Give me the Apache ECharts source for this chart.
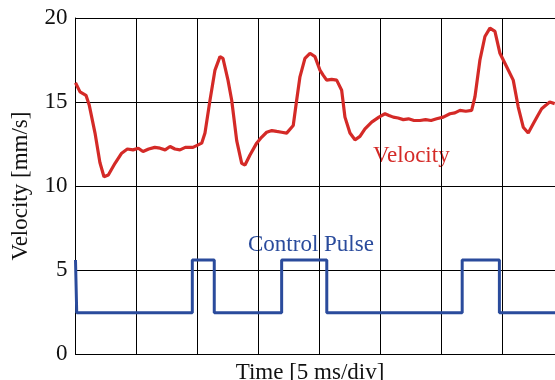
<!DOCTYPE html>
<html><head><meta charset="utf-8">
<script src="https://cdn.jsdelivr.net/npm/echarts@6/dist/echarts.min.js"></script>
<style>html,body{margin:0;padding:0;background:#fff}#c{width:555px;height:380px}</style>
</head><body><div id="c"></div>
<script>
// time in divisions (5 ms/div)
const velT = [0.0,0.074,0.172,0.226,0.32,0.40,0.467,0.538,0.648,0.757,0.85,0.943,1.03,1.107,1.2,1.3,1.385,1.47,1.55,1.63,1.713,1.8,1.926,2.069,2.123,2.205,2.287,2.369,2.418,2.5,2.561,2.643,2.725,2.779,2.861,2.97,3.05,3.134,3.22,3.298,3.38,3.462,3.57,3.626,3.68,3.762,3.844,3.926,4.008,4.06,4.118,4.2,4.282,4.364,4.418,4.5,4.582,4.664,4.746,4.856,4.975,5.074,5.14,5.21,5.29,5.374,5.46,5.55,5.648,5.74,5.83,5.921,6.03,6.139,6.22,6.303,6.4,6.495,6.549,6.631,6.713,6.795,6.877,6.959,7.069,7.177,7.259,7.341,7.423,7.505,7.58,7.643,7.71,7.775,7.857];
const velV = [16.15,15.6,15.4,14.8,13.15,11.4,10.55,10.65,11.35,11.95,12.2,12.15,12.25,12.05,12.2,12.3,12.25,12.15,12.35,12.2,12.15,12.3,12.3,12.55,13.15,15.1,16.9,17.7,17.6,16.3,15.1,12.7,11.35,11.25,11.85,12.55,12.9,13.2,13.3,13.25,13.2,13.15,13.6,15.1,16.5,17.6,17.9,17.7,16.9,16.6,16.3,16.35,16.3,15.7,14.1,13.15,12.75,12.95,13.4,13.8,14.1,14.3,14.2,14.1,14.05,13.95,14.0,13.9,13.9,13.95,13.9,14.0,14.1,14.3,14.35,14.5,14.45,14.5,15.3,17.5,18.9,19.4,19.2,17.9,17.1,16.3,14.7,13.5,13.15,13.7,14.2,14.6,14.8,15.0,14.9];
const pulseT = [0,0.02,0.02,1.915,1.915,2.275,2.275,3.38,3.38,4.12,4.12,6.34,6.34,6.95,6.95,7.87];
const pulseV = [5.6,5.6,2.46,2.46,5.6,5.6,2.46,2.46,5.6,5.6,2.46,2.46,5.6,5.6,2.46,2.46];
const yTicks = [0,5,10,15,20];
const labels = {vel:'Velocity', pulse:'Control Pulse', xName:'Time [5 ms/div]', yName:'Velocity [mm/s]'};

const font = '"Liberation Serif","Times New Roman",serif';
const chart = echarts.init(document.getElementById('c'));
chart.setOption({
  animation:false,
  backgroundColor:'#fff',
  grid:{left:75.5,top:18,width:480,bottom:26,containLabel:false,outerBoundsMode:'none'},
  xAxis:{type:'value',min:0,max:7.87,interval:1,
    axisLine:{show:true,lineStyle:{color:'#000',width:1}},
    axisTick:{show:false},axisLabel:{show:false},
    splitLine:{show:true,lineStyle:{color:'#000',width:1}},
    name:labels.xName,nameLocation:'middle',nameGap:7,
    nameTextStyle:{fontFamily:font,fontSize:23,color:'#111',padding:[0,11,0,0]}},
  yAxis:{type:'value',min:yTicks[0],max:yTicks[yTicks.length-1],interval:5,
    axisLine:{show:true,lineStyle:{color:'#000',width:1}},
    axisTick:{show:false},
    axisLabel:{fontFamily:font,fontSize:23,color:'#111',margin:8},
    splitLine:{show:true,lineStyle:{color:'#000',width:1}},
    name:labels.yName,nameLocation:'middle',nameGap:43,
    nameTextStyle:{fontFamily:font,fontSize:23,color:'#111'}},
  series:[
    {type:'line',data:velT.map((t,i)=>[t,velV[i]]),showSymbol:false,
     lineStyle:{color:'#d42a27',width:3.2},clip:true},
    {type:'line',data:pulseT.map((t,i)=>[t,pulseV[i]]),showSymbol:false,
     lineStyle:{color:'#2a4b9c',width:3},clip:true}
  ],
  graphic:[
    {type:'text',x:373,y:156,style:{text:labels.vel,fill:'#d42a27',font:'23px '+font,verticalAlign:'middle'}},
    {type:'text',x:248,y:245,style:{text:labels.pulse,fill:'#2a4b9c',font:'23px '+font,verticalAlign:'middle'}}
  ]
});
</script></body></html>
